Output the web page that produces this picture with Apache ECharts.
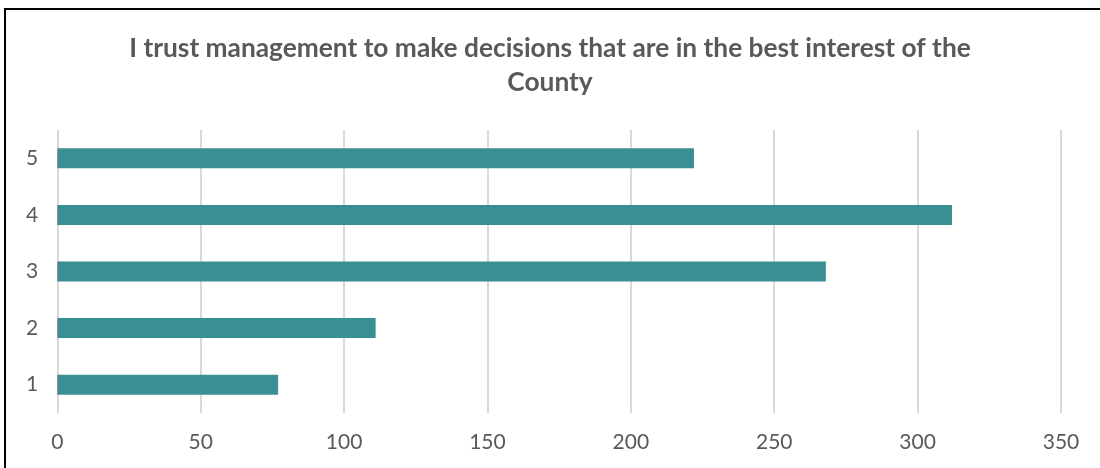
<!DOCTYPE html>
<html>
<head>
<meta charset="utf-8">
<script src="https://cdn.jsdelivr.net/npm/echarts@6/dist/echarts.min.js"></script>
<style>
  html, body { margin: 0; padding: 0; background: #fff; }
  #chart { width: 1100px; height: 468px; }
</style>
</head>
<body>
<div id="chart"></div>
<script>
// Rating categories (bottom to top) and number of responses for each
const categories = ['1', '2', '3', '4', '5'];
const responses = [77, 111, 268, 312, 222];
const xTicks = [0, 50, 100, 150, 200, 250, 300, 350];

const titleText = 'I trust management to make decisions that are in the best interest of the\nCounty';

const chart = echarts.init(document.getElementById('chart'), null, { renderer: 'canvas' });
chart.setOption({
  animation: false,
  backgroundColor: '#ffffff',
  title: {
    text: titleText,
    left: 'center',
    top: 27,
    textStyle: {
      fontFamily: 'Lato',
      fontWeight: 'bold',
      fontSize: 26.3,
      color: '#595959',
      lineHeight: 34
    }
  },
  graphic: [{
    type: 'polyline',
    shape: { points: [[5, 468], [5, 9], [1100, 9]] },
    style: { stroke: '#000', lineWidth: 2, fill: null },
    silent: true
  }],
  grid: { left: 57.3, right: 39, top: 130, bottom: 55, containLabel: false },
  xAxis: {
    type: 'value',
    min: xTicks[0],
    max: xTicks[xTicks.length - 1],
    interval: 50,
    axisLine: { show: false },
    axisTick: { show: false },
    splitLine: { show: true, lineStyle: { color: '#d9d9d9', width: 2 } },
    axisLabel: {
      fontFamily: 'Lato',
      fontSize: 21,
      color: '#595959',
      margin: 19
    }
  },
  yAxis: {
    type: 'category',
    data: categories,
    axisLine: { show: false },
    axisTick: { show: false },
    axisLabel: {
      fontFamily: 'Lato',
      fontSize: 21,
      color: '#595959',
      margin: 19
    }
  },
  series: [{
    type: 'bar',
    data: responses,
    barWidth: 20,
    itemStyle: { color: '#3A8F93' }
  }]
});
</script>
</body>
</html>
